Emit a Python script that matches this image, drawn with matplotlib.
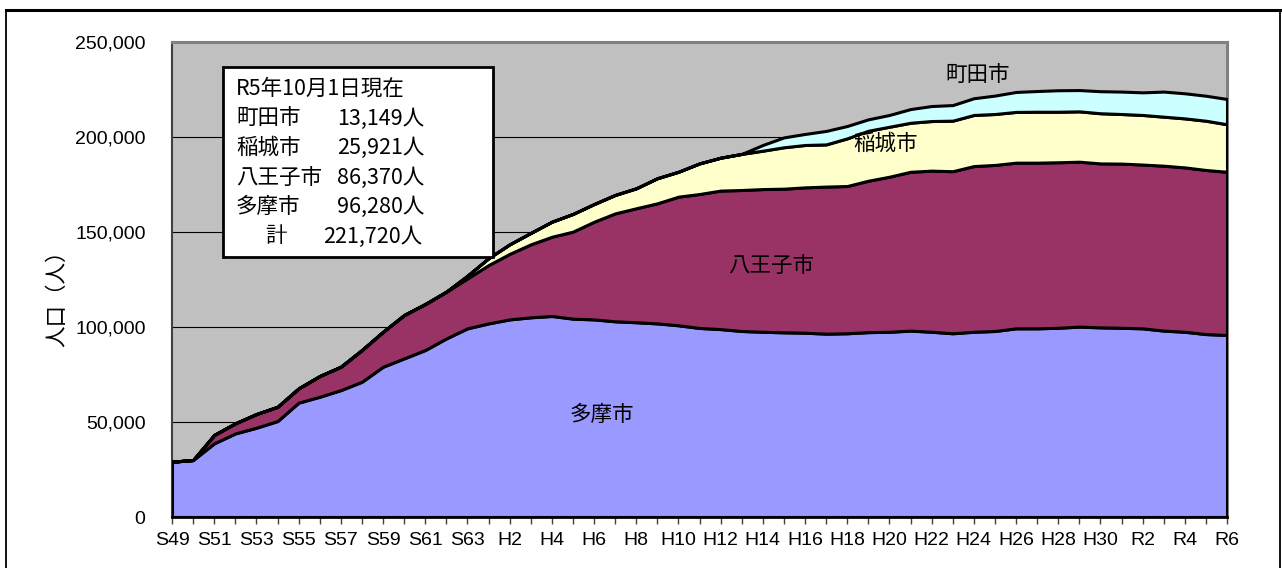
import matplotlib
matplotlib.use("Agg")
import matplotlib.pyplot as plt
from matplotlib.patches import Rectangle
from matplotlib.lines import Line2D
from matplotlib.ticker import FuncFormatter
import numpy as np

plt.rcParams['font.family'] = ['Noto Sans CJK JP', 'DejaVu Sans']

# ---------------- data ----------------
years = (["S%d" % y for y in range(49, 64)] +
         ["H%d" % y for y in range(1, 31)] +
         ["R%d" % y for y in range(1, 7)])

tama = [29100, 30000, 38800, 44000, 47000, 50500, 60200, 63300, 66800, 71200,
        79100, 83500, 87900, 94000, 99300,
        101900, 104000, 105100, 105800, 104400, 104000, 103000, 102500, 101900, 100900,
        99500, 98900, 97900, 97500, 97200, 97000, 96500, 96700, 97300, 97500,
        98100, 97500, 96700, 97500, 97900, 99300, 99300, 99600, 100200, 99800,
        99600, 99300, 98100, 97500, 96280, 95800]

hachioji = [0, 0, 4400, 5300, 7200, 7500, 7500, 10900, 12300, 16700,
            18400, 22800, 24200, 24600, 26300,
            30700, 34500, 38400, 41700, 45800, 51400, 56800, 60000, 63200, 67700,
            70500, 72900, 74200, 75100, 75600, 76500, 77400, 77500, 79700, 81600,
            83600, 84800, 85300, 87200, 87400, 87200, 87200, 87100, 86800, 86300,
            86400, 86200, 86800, 86500, 86370, 85900]

inagi = [0, 0, 0, 0, 0, 0, 0, 0, 0, 0,
         0, 0, 0, 0, 1400,
         3600, 5000, 6000, 7900, 9300, 9300, 9700, 10500, 13200, 13100,
         16100, 17300, 19000, 20200, 21800, 22300, 22200, 25100, 26300, 26300,
         25800, 26100, 26600, 26900, 26800, 26700, 26800, 26600, 26500, 26400,
         26100, 26100, 25800, 25800, 25921, 25000]

machida = [0, 0, 0, 0, 0, 0, 0, 0, 0, 0,
           0, 0, 0, 0, 0,
           0, 0, 0, 0, 0, 0, 0, 0, 0, 0,
           0, 0, 0, 3000, 5200, 5800, 7100, 6500, 6000, 6200,
           7200, 7900, 8200, 8800, 9700, 10500, 10900, 11300, 11200, 11600,
           11800, 11900, 13200, 13200, 13149, 13300]

series_names = ["多摩市", "八王子市", "稲城市", "町田市"]
series_colors = ["#9999FF", "#993366", "#FFFFCC", "#CCFFFF"]

box_title = "R5年10月1日現在"
box_rows = [("町田市", "13,149人"), ("稲城市", "25,921人"),
            ("八王子市", "86,370人"), ("多摩市", "96,280人")]
box_total = ("計", "221,720人")

# ---------------- figure ----------------
W, H = 1282, 568
fig = plt.figure(figsize=(W / 100, H / 100), dpi=100)
fig.patch.set_facecolor("white")

def fx(px):
    return px / W

def fy(py):
    return 1 - py / H

JP = 15.5

L, R, T, B = 172, 1227, 42, 517
ax = fig.add_axes([fx(L), fy(B), fx(R) - fx(L), fy(T) - fy(B)])
ax.set_facecolor("#C0C0C0")

x = np.arange(len(years))
ax.stackplot(x, tama, hachioji, inagi, machida, colors=series_colors,
             edgecolor="black", linewidth=2.2, zorder=3)

ax.set_xlim(0, len(years) - 1)
ax.set_ylim(0, 250000)
ax.set_yticks(np.arange(0, 250001, 50000))
ax.yaxis.set_major_formatter(FuncFormatter(lambda v, p: f"{int(v):,}"))
ax.grid(axis="y", color="black", linewidth=0.8, zorder=1)
ax.set_axisbelow(True)

ax.set_xticks(x)
ax.set_xticklabels([lab if i % 2 == 0 else "" for i, lab in enumerate(years)])
ax.tick_params(axis="x", length=5, width=1, color="#404040", direction="out", pad=6)
ax.tick_params(axis="y", length=0, pad=19)
for lab in ax.get_xticklabels():
    lab.set_fontfamily(["Liberation Sans", "DejaVu Sans"])
    lab.set_fontsize(14)
for lab in ax.get_yticklabels():
    lab.set_fontfamily(["Liberation Sans", "DejaVu Sans"])
    lab.set_fontsize(14)

for s in ["top", "right"]:
    ax.spines[s].set_color("#808080")
    ax.spines[s].set_linewidth(2.2)
ax.spines["left"].set_color("#404040")
ax.spines["left"].set_linewidth(1.5)
ax.spines["bottom"].set_color("black")
ax.spines["bottom"].set_linewidth(2.0)

# y label
fig.text(fx(57), fy(293), "人口（人）", rotation=90, ha="center", va="center",
         fontsize=JP)

# in-chart labels
lab_pos = {"町田市": (978, 75), "稲城市": (885, 144), "八王子市": (771, 266), "多摩市": (602, 415)}
for name in series_names:
    px, py = lab_pos[name]
    fig.text(fx(px), fy(py), name, ha="center", va="center", fontsize=JP, zorder=10)

# annotation box
box = Rectangle((fx(222.5), fy(256.5)), fx(493) - fx(222.5), fy(66.5) - fy(256.5),
                transform=fig.transFigure, facecolor="white", edgecolor="black",
                linewidth=2.0, zorder=8)
fig.add_artist(box)
line_y = [89, 118.5, 148, 177.5, 207, 236.5]
fig.text(fx(236), fy(line_y[0]), box_title, ha="left", va="center", fontsize=JP, zorder=9)
for (nm, val), yy in zip(box_rows, line_y[1:5]):
    fig.text(fx(236), fy(yy), nm, ha="left", va="center", fontsize=JP, zorder=9)
    fig.text(fx(424), fy(yy), val, ha="right", va="center", fontsize=JP, zorder=9)
fig.text(fx(276), fy(line_y[5]), box_total[0], ha="center", va="center", fontsize=JP, zorder=9)
fig.text(fx(422), fy(line_y[5]), box_total[1], ha="right", va="center", fontsize=JP, zorder=9)

# outer frame
fig.add_artist(Line2D([fx(6), fx(1280)], [fy(10), fy(10)], transform=fig.transFigure,
                      color="black", linewidth=2.2))
fig.add_artist(Line2D([fx(6), fx(6)], [fy(10), fy(570)], transform=fig.transFigure,
                      color="black", linewidth=1.3))
fig.add_artist(Line2D([fx(1280), fx(1280)], [fy(10), fy(570)], transform=fig.transFigure,
                      color="black", linewidth=1.3))

fig.savefig("out.png", dpi=100, facecolor="white")
